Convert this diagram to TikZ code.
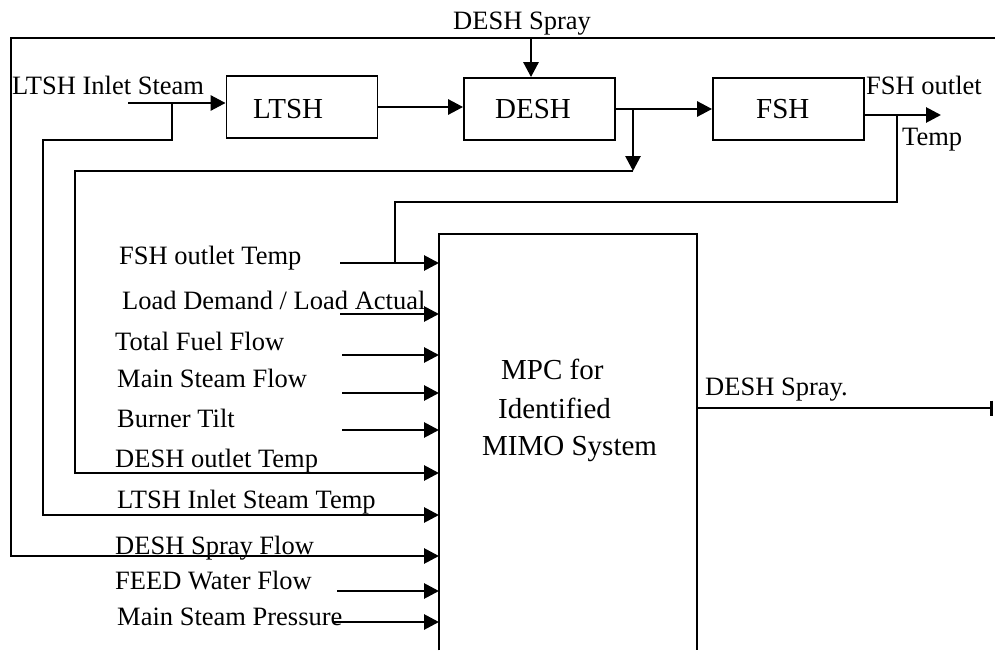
\documentclass[tikz,border=0pt]{standalone}
\usepackage{fontspec}
\setmainfont{Liberation Serif}
\usetikzlibrary{arrows.meta}
\begin{document}
\begin{tikzpicture}[x=1pt,y=-1pt,
  lbl/.style={font=\fontsize{26.5}{30}\selectfont, inner sep=0pt, anchor=base west},
  boxlbl/.style={font=\fontsize{29}{33}\selectfont, inner sep=0pt, anchor=base west},
  blk/.style={draw, line width=1.8pt, minimum width=151pt, minimum height=62pt, inner sep=0pt},
  thinln/.style={line width=1.9pt},
  arr/.style={line width=2.8pt, -{Triangle[length=15pt,width=15pt]}}]
\useasboundingbox (0,0) rectangle (995,650);

% blocks
\node[blk] (ltsh) at (302,107) {};
\node[blk] (desh) at (539.5,109) {};
\node[blk] (fsh) at (788.5,109) {};
\node[boxlbl] (ltshT) at (253,118) {LTSH};
\node[boxlbl] (deshT) at (495,118) {DESH};
\node[boxlbl] (fshT) at (756,118) {FSH};

% MPC block (open at the bottom)
\node[minimum width=258pt, minimum height=416pt, inner sep=0pt, anchor=north west] (mpc) at (439,234) {};
\draw[line width=1.9pt] (mpc.south west) |- (mpc.north) -| (mpc.south east);
\node[boxlbl] (mpc1) at (501,379) {MPC for};
\node[boxlbl] (mpc2) at (498,418) {Identified};
\node[boxlbl] (mpc3) at (482,455) {MIMO System};

% coordinates
\coordinate (inL) at (128,103);
\coordinate (brL) at (172,103);
\coordinate (sprayTop) at (531,38);
\coordinate (topR) at (995,38);
\coordinate (brD) at (633,109);
\coordinate (fshOut) at (941,115);
\coordinate (brF) at (897,115);
\coordinate (outEnd) at (993,408);

% main chain
\draw[arr] (inL) -- (ltsh.west |- inL);
\draw[arr] (ltsh.east) -- (desh.west |- ltsh.east);
\draw[arr] (desh.east) -- (fsh.west);
\draw[arr] (fsh.east |- fshOut) -- (fshOut);
\draw[arr] (sprayTop) -- (desh.north -| sprayTop);

% outer loop: DESH spray flow
\draw[thinln] (topR) -- (11,38) -- (11,556) -- (340,556);
\draw[arr] (340,556) -- (mpc.west |- 0,556);

% LTSH inlet steam temp loop
\draw[thinln] (brL) -- (172,140) -- (43,140) -- (43,515) -- (340,515);
\draw[arr] (340,515) -- (mpc.west |- 0,515);

% DESH outlet temp loop
\draw[arr] (brD) -- (633,171);
\draw[thinln] (633,171) -- (75,171) -- (75,473) -- (340,473);
\draw[arr] (340,473) -- (mpc.west |- 0,473);

% FSH outlet temp loop
\draw[thinln] (brF) -- (897,202) -- (395,202) -- (395,263);

% inputs
\draw[arr] (340,263) -- (mpc.west |- 0,263);
\draw[arr] (340,314) -- (mpc.west |- 0,314);
\draw[arr] (342,355) -- (mpc.west |- 0,355);
\draw[arr] (342,393) -- (mpc.west |- 0,393);
\draw[arr] (342,430) -- (mpc.west |- 0,430);
\draw[arr] (337,591) -- (mpc.west |- 0,591);
\draw[arr] (333,622) -- (mpc.west |- 0,622);

% output
\draw[line width=2.8pt, -{Bar[width=15pt,line width=3pt]}] (mpc.east |- outEnd) -- (outEnd);

% labels
\node[lbl] (tLin) at (12,95) {LTSH Inlet Steam};
\node[lbl] (tSpray) at (453,30) {DESH Spray};
\node[lbl] (tFo1) at (866,95) {FSH outlet};
\node[lbl] (tFo2) at (902,145) {Temp};
\node[lbl] (i1) at (119,264) {FSH outlet Temp};
\node[lbl] (i2) at (122,309) {Load Demand / Load Actual};
\node[lbl] (i3) at (115,350) {Total Fuel Flow};
\node[lbl] (i4) at (117,387) {Main Steam Flow};
\node[lbl] (i5) at (117,427) {Burner Tilt};
\node[lbl] (i6) at (115,467) {DESH outlet Temp};
\node[lbl] (i7) at (117,508) {LTSH Inlet Steam Temp};
\node[lbl] (i8) at (115,554) {DESH Spray Flow};
\node[lbl] (i9) at (115,589) {FEED Water Flow};
\node[lbl] (i10) at (117,625) {Main Steam Pressure};
\node[lbl] (tOut) at (705,395) {DESH Spray.};
\end{tikzpicture}
\end{document}
